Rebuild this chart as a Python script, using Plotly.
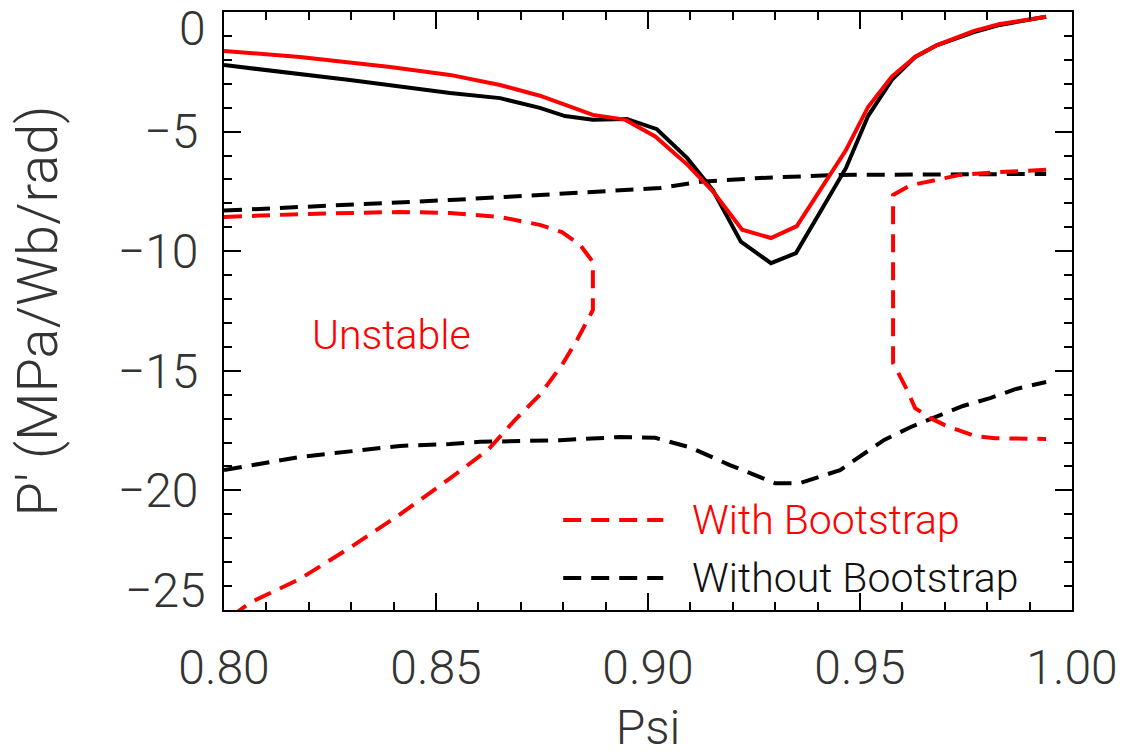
import plotly.graph_objects as go

# solid profiles
psi_red = [0.8000, 0.8179, 0.8392, 0.8533, 0.8651, 0.8745, 0.8870, 0.8946, 0.9017, 0.9094,
           0.9153, 0.9222, 0.9290, 0.9351, 0.9467, 0.9519, 0.9575, 0.9630, 0.9682, 0.9769,
           0.9830, 0.9939]
p_red = [-1.63, -1.88, -2.30, -2.63, -3.05, -3.50, -4.30, -4.50, -5.20, -6.40,
         -7.50, -9.10, -9.45, -8.95, -5.77, -3.97, -2.70, -1.88, -1.38, -0.79,
         -0.50, -0.20]

psi_black = [0.8000, 0.8297, 0.8533, 0.8651, 0.8745, 0.8804, 0.8870, 0.8950, 0.9021, 0.9092,
             0.9153, 0.9219, 0.9290, 0.9349, 0.9413, 0.9467, 0.9519, 0.9575, 0.9630, 0.9682,
             0.9769, 0.9830, 0.9939]
p_black = [-2.22, -2.84, -3.39, -3.60, -4.01, -4.35, -4.50, -4.47, -4.90, -6.10,
           -7.45, -9.60, -10.50, -10.08, -8.15, -6.52, -4.35, -2.84, -1.88, -1.38,
           -0.84, -0.54, -0.20]

# stability boundaries, without bootstrap
psi_nb_up = [0.8000, 0.8179, 0.8415, 0.8533, 0.8745, 0.9028, 0.9123, 0.9264, 0.9453, 0.9939]
p_nb_up = [-8.30, -8.15, -7.98, -7.86, -7.65, -7.36, -7.10, -6.94, -6.81, -6.77]

psi_nb_lo = [0.8000, 0.8179, 0.8415, 0.8533, 0.8604, 0.8792, 0.8934, 0.9017, 0.9099, 0.9193,
             0.9300, 0.9358, 0.9453, 0.9505, 0.9557, 0.9620, 0.9686, 0.9743, 0.9807, 0.9868,
             0.9939]
p_nb_lo = [-19.15, -18.60, -18.14, -18.06, -17.97, -17.90, -17.77, -17.80, -18.20, -18.94,
           -19.70, -19.70, -19.15, -18.52, -17.89, -17.35, -16.89, -16.47, -16.14, -15.76,
           -15.47]

# stability boundaries, with bootstrap (left contour + right contour)
psi_b_left = [0.8000, 0.8179, 0.8415, 0.8533, 0.8651, 0.8745, 0.8797, 0.8840, 0.8870, 0.8870,
              0.8870, 0.8833, 0.8797, 0.8745, 0.8686, 0.8623, 0.8533, 0.8415, 0.8297, 0.8179,
              0.8061, 0.8000]
p_b_left = [-8.57, -8.45, -8.36, -8.40, -8.57, -8.90, -9.20, -9.74, -10.45, -11.62,
            -12.46, -13.70, -14.76, -16.00, -17.06, -18.30, -19.50, -21.00, -22.40, -23.70,
            -24.70, -25.50]

psi_b_right = [0.9939, 0.9830, 0.9736, 0.9642, 0.9618, 0.9578, 0.9578, 0.9611, 0.9630, 0.9665,
               0.9700, 0.9771, 0.9818, 0.9939]
p_b_right = [-6.60, -6.69, -6.81, -7.15, -7.25, -7.65, -14.67, -15.80, -16.56, -16.97,
             -17.27, -17.73, -17.82, -17.85]

# y tick labels (end labels are drawn separately, pulled inside the frame)
y_ticks = [-25, -20, -15, -10, -5, 0]
y_ticktext = ['', '\u221220', '\u221215', '\u221210', '\u22125', '']

RED = '#ff0000'
FONT = 'Roboto'
DASH = '18px,10px'

fig = go.Figure()

fig.add_trace(go.Scatter(x=psi_nb_up, y=p_nb_up, mode='lines',
                         line=dict(color='black', width=4, dash=DASH)))
fig.add_trace(go.Scatter(x=psi_nb_lo, y=p_nb_lo, mode='lines',
                         line=dict(color='black', width=4, dash=DASH)))
fig.add_trace(go.Scatter(x=psi_b_left, y=p_b_left, mode='lines',
                         line=dict(color=RED, width=4, dash=DASH)))
fig.add_trace(go.Scatter(x=psi_b_right, y=p_b_right, mode='lines',
                         line=dict(color=RED, width=4, dash=DASH)))
fig.add_trace(go.Scatter(x=psi_black, y=p_black, mode='lines',
                         line=dict(color='black', width=4)))
fig.add_trace(go.Scatter(x=psi_red, y=p_red, mode='lines',
                         line=dict(color=RED, width=4)))

tick_font = dict(family=FONT, size=48, color='#333', weight=300)

axis_common = dict(
    showgrid=False, zeroline=False, automargin=False,
    showline=True, linecolor='black', linewidth=2, mirror='allticks',
    ticks='inside', ticklen=17, tickwidth=1.5, tickcolor='black',
    tickfont=tick_font,
)

fig.update_xaxes(range=[0.80, 1.00], dtick=0.05, tickformat='.2f',
                 minor=dict(dtick=0.01, ticklen=8, ticks='inside', tickcolor='black'),
                 ticklabelstandoff=14,
                 title=dict(text='Psi', standoff=18, font=tick_font), **axis_common)
fig.update_yaxes(range=[-25, 0], tickmode='array', tickvals=y_ticks, ticktext=y_ticktext,
                 minor=dict(dtick=1, ticklen=8, ticks='inside', tickcolor='black'),
                 ticklabelstandoff=14,
                 title=dict(text="P' (MPa/Wb/rad)", standoff=42,
                            font=dict(family=FONT, size=56, color='#333', weight=300)),
                 **axis_common)

# end labels of the y axis, nudged inward like the original
fig.add_annotation(xref='paper', yref='y', x=0, y=0, text='0', showarrow=False,
                   xanchor='right', yanchor='middle', xshift=-16, yshift=-16, font=tick_font)
fig.add_annotation(xref='paper', yref='y', x=0, y=-25, text='\u221225', showarrow=False,
                   xanchor='right', yanchor='middle', xshift=-16, yshift=20, font=tick_font)

# in-plot label
fig.add_annotation(x=0.8396, y=-13.5, text='Unstable', showarrow=False,
                   font=dict(family=FONT, size=41, color=RED, weight=300))

# manual legend in the lower right
fig.add_shape(type='line', xref='paper', yref='paper', x0=0.40, x1=0.518, y0=0.1505, y1=0.1505,
              line=dict(color=RED, width=4, dash=DASH))
fig.add_shape(type='line', xref='paper', yref='paper', x0=0.40, x1=0.518, y0=0.0535, y1=0.0535,
              line=dict(color='black', width=4, dash=DASH))
fig.add_annotation(xref='paper', yref='paper', x=0.5495, y=0.1505, xanchor='left', yanchor='middle',
                   text='With Bootstrap', showarrow=False,
                   font=dict(family=FONT, size=41, color=RED, weight=300))
fig.add_annotation(xref='paper', yref='paper', x=0.5495, y=0.0535, xanchor='left', yanchor='middle',
                   text='Without Bootstrap', showarrow=False,
                   font=dict(family=FONT, size=41, color='#111', weight=300))

fig.update_layout(
    width=1132, height=756,
    margin=dict(l=224, r=60, t=12, b=146),
    plot_bgcolor='white', paper_bgcolor='white',
    showlegend=False,
)

# drop the default page margin so the figure sits at the window's corner
fig.write_html("out.html", config={'displayModeBar': False},
               post_script="document.body.style.margin='0';")
